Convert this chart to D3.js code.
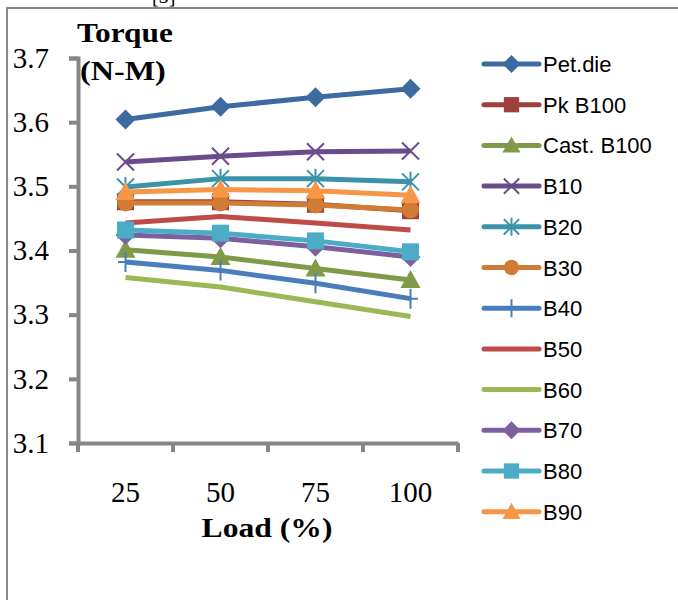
<!DOCTYPE html>
<html>
<head>
<meta charset="utf-8">
<script src="https://cdn.jsdelivr.net/npm/d3@7"></script>
<style>
  body { margin: 0; background: #fff; }
  svg { display: block; }
</style>
</head>
<body>
<div id="chart"></div>
<script>
const loads = ["25", "50", "75", "100"];
const yTicks = [3.1, 3.2, 3.3, 3.4, 3.5, 3.6, 3.7];

const seriesNames = ["Pet.die", "Pk B100", "Cast. B100", "B10", "B20", "B30", "B40", "B50", "B60", "B70", "B80", "B90"];
const petDie   = [3.604, 3.624, 3.639, 3.652];
const pkB100   = [3.476, 3.476, 3.472, 3.462];
const castB100 = [3.401, 3.390, 3.372, 3.354];
const b10 = [3.538, 3.547, 3.554, 3.555];
const b20 = [3.499, 3.512, 3.512, 3.507];
const b30 = [3.474, 3.474, 3.471, 3.463];
const b40 = [3.382, 3.369, 3.349, 3.325];
const b50 = [3.443, 3.453, 3.443, 3.432];
const b60 = [3.358, 3.343, 3.320, 3.297];
const b70 = [3.424, 3.419, 3.406, 3.390];
const b80 = [3.432, 3.427, 3.415, 3.398];
const b90 = [3.491, 3.495, 3.493, 3.486];
const seriesValues = [petDie, pkB100, castB100, b10, b20, b30, b40, b50, b60, b70, b80, b90];

const colors = ["#3D6AA1", "#A0403D", "#7F9A48", "#6A4C8C", "#3A93A8", "#D07C35",
                "#4A7EBB", "#BE4B48", "#98B954", "#7D60A0", "#4BACC6", "#F79646"];
const markers = ["diamond", "square", "triangle", "x", "star", "circle",
                 "plus", "none", "none", "diamond", "square", "triangle"];

const width = 678, height = 600;
const axisColor = "#868686";

const svg = d3.select("#chart").append("svg")
    .attr("width", width)
    .attr("height", height);

// outer frame (cut off at the bottom and right)
svg.append("path")
    .attr("d", "M7,600 V8 H678")
    .attr("fill", "none")
    .attr("stroke", axisColor)
    .attr("stroke-width", 2);

// caption fragment of the page above, cut off at the top edge
svg.append("text")
    .attr("x", 152).attr("y", 3)
    .attr("font-family", "Liberation Serif")
    .attr("font-size", 20)
    .text("[3]");

const xScale = d3.scaleBand().domain(loads).range([78, 458]);
const yScale = d3.scaleLinear().domain([3.1, 3.7]).range([443, 58]);

// y axis
const yAxisG = svg.append("g")
    .attr("transform", "translate(" + xScale.range()[0] + ",0)")
    .call(d3.axisLeft(yScale).tickValues(yTicks).tickFormat(d3.format(".1f")).tickSize(9).tickPadding(20));
yAxisG.select(".domain").attr("stroke", axisColor).attr("stroke-width", 4);
yAxisG.selectAll(".tick line").attr("stroke", axisColor).attr("stroke-width", 4);
yAxisG.selectAll(".tick text")
    .attr("font-family", "Liberation Serif")
    .attr("font-size", 29)
    .attr("fill", "#000");

// x axis
const xAxisG = svg.append("g")
    .attr("transform", "translate(0," + yScale.range()[0] + ")")
    .call(d3.axisBottom(xScale).tickSize(0).tickPadding(38));
xAxisG.select(".domain").attr("stroke", axisColor).attr("stroke-width", 4);
xAxisG.selectAll(".tick text")
    .attr("font-family", "Liberation Serif")
    .attr("font-size", 29)
    .attr("fill", "#000");
xAxisG.selectAll(".boundTick")
    .data(loads.concat(["end"]))
    .join("line")
    .attr("class", "boundTick")
    .attr("x1", (d, i) => xScale.range()[0] + i * xScale.step())
    .attr("x2", (d, i) => xScale.range()[0] + i * xScale.step())
    .attr("y1", 0).attr("y2", 9)
    .attr("stroke", axisColor)
    .attr("stroke-width", 4);

// axis titles (the original text is a bit wider than Times)
const titleG = svg.append("g")
    .attr("font-family", "Liberation Serif")
    .attr("font-weight", "bold")
    .attr("font-size", 28);
titleG.append("text")
    .attr("transform", "translate(77,42) scale(1.12,1)").text("Torque");
titleG.append("text")
    .attr("transform", "translate(80,80) scale(1.15,1)").text("(N-M)");
titleG.append("text")
    .attr("transform", "translate(267,537) scale(1.13,1)")
    .attr("text-anchor", "middle").text("Load (%)");

function markerPath(type, r) {
    const p = d3.path();
    if (type === "diamond") {
        p.moveTo(0, -r); p.lineTo(r, 0); p.lineTo(0, r); p.lineTo(-r, 0); p.closePath();
    } else if (type === "square") {
        const s = r * 0.85;
        p.rect(-s, -s, 2 * s, 2 * s);
    } else if (type === "triangle") {
        p.moveTo(0, -r); p.lineTo(r, r * 0.8); p.lineTo(-r, r * 0.8); p.closePath();
    } else if (type === "circle") {
        p.arc(0, 0, r * 0.85, 0, 2 * Math.PI);
    }
    return p.toString();
}

function strokeMarkerPath(type, r) {
    const p = d3.path();
    const s = r * 0.85;
    if (type === "x" || type === "star") {
        p.moveTo(-s, -s); p.lineTo(s, s);
        p.moveTo(-s, s); p.lineTo(s, -s);
    }
    if (type === "star") {
        p.moveTo(0, -r); p.lineTo(0, r);
    }
    if (type === "plus") {
        p.moveTo(0, -r); p.lineTo(0, r);
        p.moveTo(-r * 0.75, 0); p.lineTo(r * 0.75, 0);
    }
    return p.toString();
}

function drawMarker(g, type, color, r) {
    if (type === "none") return;
    if (["x", "star", "plus"].includes(type)) {
        g.append("path")
            .attr("d", strokeMarkerPath(type, r))
            .attr("fill", "none")
            .attr("stroke", color)
            .attr("stroke-width", 2);
    } else {
        g.append("path")
            .attr("d", markerPath(type, r))
            .attr("fill", color);
    }
}

const line = d3.line()
    .x((d, i) => xScale(loads[i]) + xScale.bandwidth() / 2)
    .y(d => yScale(d));

const plotG = svg.append("g");
seriesValues.forEach((vals, si) => {
    const g = plotG.append("g");
    g.append("path")
        .attr("d", line(vals))
        .attr("fill", "none")
        .attr("stroke", colors[si])
        .attr("stroke-width", 5)
        .attr("stroke-linejoin", "round");
    vals.forEach((v, i) => {
        const mg = g.append("g")
            .attr("transform", "translate(" + (xScale(loads[i]) + xScale.bandwidth() / 2) + "," + yScale(v) + ")");
        drawMarker(mg, markers[si], colors[si], 10);
    });
});

// legend
const legendG = svg.append("g").attr("transform", "translate(484,64)");
seriesNames.forEach((name, si) => {
    const row = legendG.append("g").attr("transform", "translate(0," + si * 40.7 + ")");
    row.append("line")
        .attr("x1", 0).attr("x2", 55)
        .attr("stroke", colors[si])
        .attr("stroke-width", 5)
        .attr("stroke-linecap", "round");
    const mg = row.append("g").attr("transform", "translate(27.5,0)");
    drawMarker(mg, markers[si], colors[si], 9);
    row.append("text")
        .attr("x", 59).attr("y", 8)
        .attr("font-family", "Liberation Sans")
        .attr("font-size", 22)
        .attr("fill", "#000")
        .text(name);
});
</script>
</body>
</html>
